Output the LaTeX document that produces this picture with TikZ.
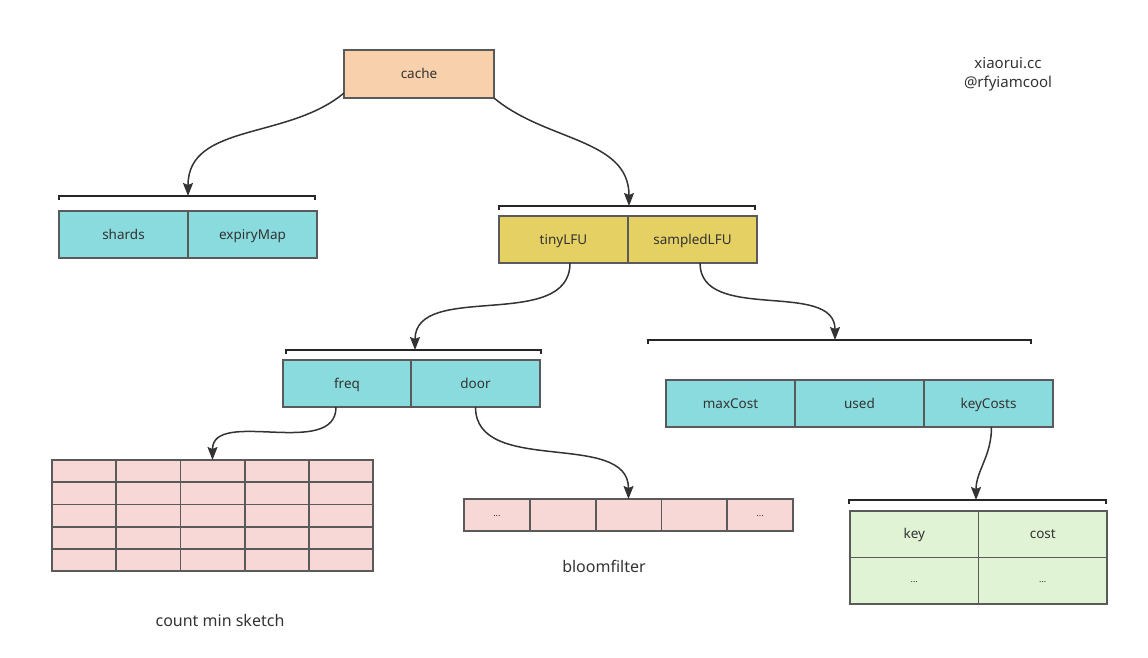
\documentclass[tikz,border=0pt]{standalone}
\usepackage{fontspec}
\setmainfont{Noto Sans}
\usetikzlibrary{positioning,arrows.meta}
\definecolor{peach}{HTML}{F8D0AB}
\definecolor{cyanbox}{HTML}{8ADBDD}
\definecolor{yellowbox}{HTML}{E4D063}
\definecolor{pinkbox}{HTML}{F8D7D7}
\definecolor{greenbox}{HTML}{E0F3D5}
\definecolor{edge}{HTML}{5A5A5A}
\definecolor{txt}{HTML}{333333}

\begin{document}
\begin{tikzpicture}[x=1pt,y=-1pt,>={Stealth[length=13pt,width=10pt,inset=2pt]},
    cell/.style={draw=edge, line width=1.8pt, inner sep=0pt, outer sep=0pt, text=txt,
        font=\fontsize{13.5}{13.5}\selectfont, text height=10.5pt, text depth=1.5pt,
        minimum width=129pt, minimum height=47pt},
    dots/.style={font=\fontsize{9}{9}\selectfont, text height=3pt, text depth=-3pt},
    bracket/.style={line width=2.2pt, black!85},
    link/.style={->, line width=1.5pt, draw=txt},
    caption/.style={text=txt, font=\fontsize{16}{16}\selectfont}]
        \useasboundingbox (0,0) rectangle (1148,658);
        % top
        \node (cache) [cell, fill=peach, minimum width=150pt, minimum height=48pt] at (419,74) {cache};
        \node (author) [caption, align=center, font=\fontsize{15}{19}\selectfont] at (1008,74) {xiaorui.cc\\@rfyiamcool};
        % brackets
        \coordinate (brA-l) at (59,196); \coordinate (brA-r) at (315,196); \coordinate (brA-in) at (188,196);
        \coordinate (brB-l) at (499,206); \coordinate (brB-r) at (755,206); \coordinate (brB-in) at (629,206);
        \coordinate (brC-l) at (648,340); \coordinate (brC-r) at (1031,340); \coordinate (brC-in) at (835,340);
        \coordinate (brD-l) at (286,350); \coordinate (brD-r) at (541,350); \coordinate (brD-in) at (415,350);
        \coordinate (brE-l) at (849,500); \coordinate (brE-r) at (1106,500); \coordinate (brE-in) at (976,500);
        \foreach \b in {brA,brB,brC,brD,brE}
            \draw[bracket] ([yshift=-4pt]\b-l) -- (\b-l) -- (\b-r) -- ([yshift=-4pt]\b-r);
        % structs
        \node (shards) [cell, fill=cyanbox] at (123.5,234.5) {shards};
        \node (expiry) [cell, fill=cyanbox, right=0pt of shards] {expiryMap};
        \node (tinylfu) [cell, fill=yellowbox] at (563.5,239.5) {tinyLFU};
        \node (sampled) [cell, fill=yellowbox, right=0pt of tinylfu] {sampledLFU};
        \node (freq) [cell, fill=cyanbox, minimum width=128pt] at (347,383.5) {freq};
        \node (door) [cell, fill=cyanbox, minimum width=129pt, right=0pt of freq] {door};
        \node (maxcost) [cell, fill=cyanbox] at (730.5,403.5) {maxCost};
        \node (used) [cell, fill=cyanbox, right=0pt of maxcost] {used};
        \node (keycosts) [cell, fill=cyanbox, right=0pt of used] {keyCosts};
        % count min sketch
        \foreach \i in {1,...,5}
            \foreach \j in {1,...,5}
                \node (cms-\i-\j) [cell, fill=pinkbox, minimum width=64.2pt, minimum height=22.2pt]
                    at ({52+32.1+(\i-1)*64.2},{460+11.1+(\j-1)*22.2}) {};
        \node (cmslabel) [caption] at (220,620) {count min sketch};
        % bloomfilter
        \foreach \i/\t in {1/{...},2/{},3/{},4/{},5/{...}}
            \node (bloom-\i) [cell, fill=pinkbox, dots, minimum width=65.8pt, minimum height=32pt]
                at ({464+32.9+(\i-1)*65.8},515) {\t};
        \node (bloomlabel) [caption] at (604,566) {bloomfilter};
        % keyCosts map
        \node (key) [cell, fill=greenbox, minimum width=128.5pt, minimum height=46.5pt] at (914.25,534.25) {key};
        \node (cost) [cell, fill=greenbox, minimum width=128.5pt, minimum height=46.5pt, right=0pt of key] {cost};
        \node (keydots) [cell, fill=greenbox, dots, minimum width=128.5pt, minimum height=46.5pt, below=0pt of key] {...};
        \node (costdots) [cell, fill=greenbox, dots, minimum width=128.5pt, minimum height=46.5pt, below=0pt of cost] {...};
        % links
        \draw[link] ([yshift=5pt]cache.south west) to[out=-140,in=90] (brA-in);
        \draw[link] (cache.south east) to[out=-40,in=90] (brB-in);
        \draw[link] (tinylfu.south) ++(6.5,0) to[out=-90,in=90] (brD-in);
        \draw[link] (sampled.south) ++(7.5,0) to[out=-90,in=90] (brC-in);
        \draw[link] (freq.south) ++(-11,0) to[out=-90,in=90] (cms-3-1.north);
        \draw[link] (door.south) to[out=-90,in=90] (bloom-3.north);
        \draw[link] (keycosts.south) ++(3,0) to[out=-90,in=90] (brE-in);
    \end{tikzpicture}
\end{document}
